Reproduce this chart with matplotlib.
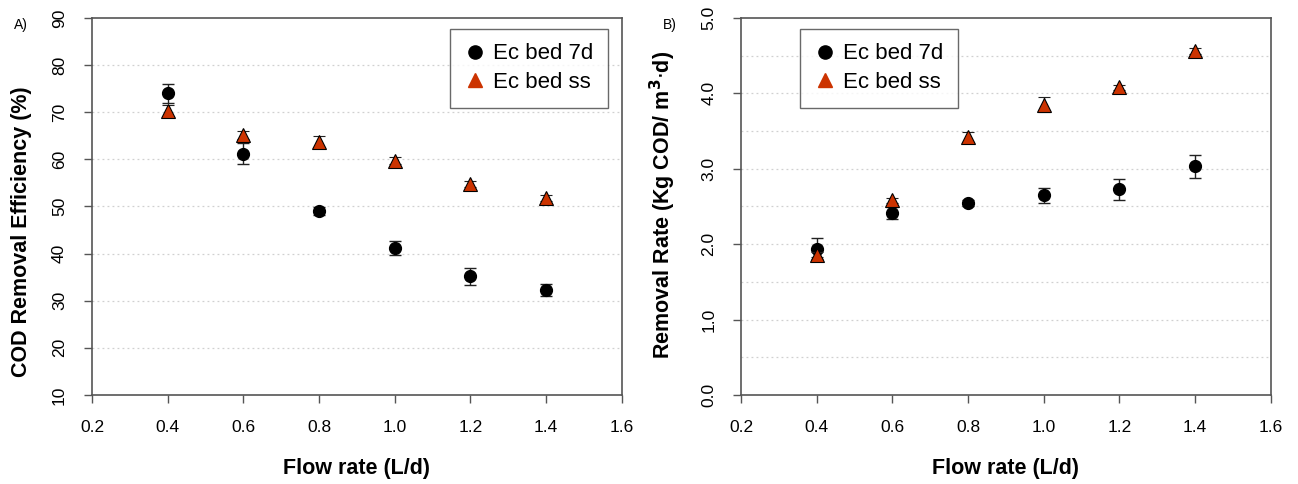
import matplotlib
matplotlib.use("Agg")
import matplotlib.pyplot as plt
from matplotlib.lines import Line2D

plt.rcParams["font.family"] = ["Liberation Sans", "DejaVu Sans"]

flow = [0.4, 0.6, 0.8, 1.0, 1.2, 1.4]

# Panel A: COD removal efficiency (%)
eff_7d = [74.0, 61.2, 49.0, 41.2, 35.2, 32.3]
eff_7d_err = [2.0, 2.2, 0.8, 1.5, 1.8, 1.2]
eff_ss = [70.2, 65.2, 63.7, 59.7, 54.8, 51.8]
eff_ss_err = [1.3, 0.8, 1.2, 0.7, 0.6, 0.7]

# Panel B: removal rate (Kg COD / m3 d)
rate_7d = [1.94, 2.41, 2.55, 2.65, 2.73, 3.03]
rate_7d_err = [0.14, 0.08, 0.04, 0.10, 0.14, 0.15]
rate_ss = [1.86, 2.58, 3.42, 3.85, 4.08, 4.56]
rate_ss_err = [0.03, 0.03, 0.07, 0.10, 0.03, 0.04]

x_ticks = [0.2, 0.4, 0.6, 0.8, 1.0, 1.2, 1.4, 1.6]
x_ticklabels = ["0.2", "0.4", "0.6", "0.8", "1.0", "1.2", "1.4", "1.6"]

RED = "#CC3300"
AXC = "#555555"

fig = plt.figure(figsize=(12.98, 4.84), dpi=100)
ax_a = fig.add_axes([0.0709, 0.184, 0.408, 0.779])
ax_b = fig.add_axes([0.571, 0.184, 0.408, 0.779])


def style_axes(ax, ylim, yticks, ylabels, grid_vals):
    ax.set_xlim(0.2, 1.6)
    ax.set_ylim(*ylim)
    for g in grid_vals:
        ax.axhline(g, color="#D0D0D0", lw=0.9, ls=(0, (1.5, 2.5)), zorder=0)
    ax.set_xticks(x_ticks)
    ax.set_xticklabels(x_ticklabels, fontsize=12.5)
    ax.set_yticks(yticks)
    ax.set_yticklabels(ylabels, fontsize=12.5, rotation=90, va="center")
    ax.tick_params(axis="both", direction="out", length=6, width=1.0,
                   color=AXC, pad=12)
    for s in ax.spines.values():
        s.set_color(AXC)
        s.set_linewidth(1.2)


def draw_series(ax, y7, e7, yss, ess):
    ax.errorbar(flow, y7, yerr=e7, fmt="o", color="black", ms=8.5,
                ecolor="#222222", elinewidth=1.0, capsize=4, capthick=1.0,
                zorder=3)
    ax.errorbar(flow, yss, yerr=ess, fmt="^", mfc=RED, mec="black", mew=0.8,
                ms=9.5, ecolor="#222222", elinewidth=1.0, capsize=4,
                capthick=1.0, zorder=4)


def add_legend(ax, loc, anchor):
    handles = [
        Line2D([], [], ls="none", marker="o", color="black", ms=9.5),
        Line2D([], [], ls="none", marker="^", mfc=RED, mec=RED, ms=10.5),
    ]
    leg = ax.legend(handles, ["Ec bed 7d", "Ec bed ss"], loc=loc,
                    bbox_to_anchor=anchor, fontsize=16, frameon=True,
                    fancybox=False, handletextpad=0.3, borderpad=0.65,
                    labelspacing=0.35, handlelength=1.0, borderaxespad=0)
    leg.get_frame().set_edgecolor("#444444")
    leg.get_frame().set_linewidth(1.0)


# ---- Panel A -----------------------------------------------------------------
style_axes(ax_a, (10, 90), list(range(10, 100, 10)),
           [str(v) for v in range(10, 100, 10)], list(range(20, 90, 10)))
draw_series(ax_a, eff_7d, eff_7d_err, eff_ss, eff_ss_err)
ax_a.set_xlabel("Flow rate (L/d)", fontsize=15.5, weight="bold")
ax_a.set_ylabel("COD Removal Efficiency (%)", fontsize=15.5, weight="bold")
ax_a.xaxis.set_label_coords(0.5, -0.167)
ax_a.yaxis.set_label_coords(-0.113, 0.432)
add_legend(ax_a, "upper right", (0.974, 0.971))

# ---- Panel B -----------------------------------------------------------------
b_ticks = [0.0, 1.0, 2.0, 3.0, 4.0, 5.0]
style_axes(ax_b, (0, 5), b_ticks, [f"{v:.1f}" for v in b_ticks],
           [0.5 * k for k in range(1, 10)])
draw_series(ax_b, rate_7d, rate_7d_err, rate_ss, rate_ss_err)
ax_b.set_xlabel("Flow rate (L/d)", fontsize=15.5, weight="bold")
ax_b.set_ylabel(r"Removal Rate (Kg COD/ m$^{\mathbf{3}}$$\cdot$d)",
                fontsize=15.5, weight="bold")
ax_b.xaxis.set_label_coords(0.5, -0.167)
ax_b.yaxis.set_label_coords(-0.12, 0.505)
add_legend(ax_b, "upper left", (0.111, 0.971))

fig.text(14 / 1298, 1 - 25 / 484, "A)", fontsize=10, va="center", ha="left")
fig.text(663 / 1298, 1 - 25 / 484, "B)", fontsize=10, va="center", ha="left")

fig.savefig("out.png", dpi=100)
